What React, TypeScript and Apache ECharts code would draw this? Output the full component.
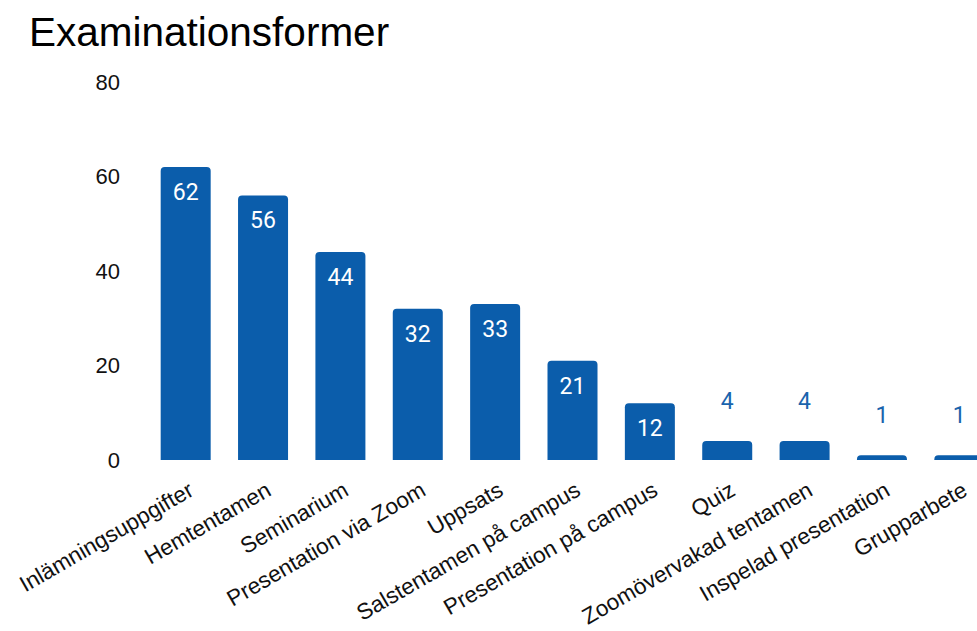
import React, { useEffect, useRef } from "react";
import * as echarts from "echarts";

const categories = [
  "Inlämningsuppgifter",
  "Hemtentamen",
  "Seminarium",
  "Presentation via Zoom",
  "Uppsats",
  "Salstentamen på campus",
  "Presentation på campus",
  "Quiz",
  "Zoomövervakad tentamen",
  "Inspelad presentation",
  "Grupparbete",
];
const values = [62, 56, 44, 32, 33, 21, 12, 4, 4, 1, 1];
const yTicks = { min: 0, max: 80, interval: 20 };

const BAR = "#0b5dab";

export default function App() {
  const ref = useRef<HTMLDivElement>(null);
  useEffect(() => {
    if (!ref.current) return;
    const chart = echarts.init(ref.current, null, { renderer: "svg" });
    chart.setOption({
      animation: false,
      backgroundColor: "#fff",
      title: {
        text: "Examinationsformer",
        left: 24,
        top: 6,
        textStyle: {
          fontSize: 40.5,
          fontWeight: "normal",
          color: "#000",
          fontFamily: "Liberation Sans",
        },
      },
      grid: {
        left: 147,
        right: 2,
        top: 82,
        bottom: 171,
        containLabel: false,
        outerBoundsMode: "none",
      },
      xAxis: {
        type: "category",
        data: categories,
        axisLine: { show: false },
        axisTick: { show: false },
        axisLabel: {
          interval: 0,
          rotate: 30,
          fontSize: 22.5,
          color: "#111",
          margin: 18,
          verticalAlign: "top",
          fontFamily: "Liberation Sans",
        },
      },
      yAxis: {
        type: "value",
        min: yTicks.min,
        max: yTicks.max,
        interval: yTicks.interval,
        axisLine: { show: false },
        axisTick: { show: false },
        splitLine: { show: false },
        axisLabel: {
          fontSize: 22,
          color: "#111",
          margin: 27,
          fontFamily: "Liberation Sans",
        },
      },
      series: [
        {
          type: "bar",
          barWidth: 50,
          itemStyle: { color: BAR, borderRadius: [4, 4, 0, 0] },
          data: values.map((v) =>
            v >= 10
              ? {
                  value: v,
                  label: {
                    show: true,
                    position: "insideTop",
                    distance: 14,
                    color: "#fff",
                    fontSize: 23,
                    fontFamily: "Roboto",
                  },
                }
              : {
                  value: v,
                  label: {
                    show: true,
                    position: "top",
                    distance: 28,
                    color: "#1a64ad",
                    fontSize: 23,
                    fontFamily: "Roboto",
                  },
                }
          ),
        },
      ],
    });
    return () => chart.dispose();
  }, []);
  return (
    <div
      style={{
        position: "fixed",
        left: 0,
        top: 0,
        width: 977,
        height: 631,
        overflow: "hidden",
        background: "#fff",
      }}
    >
      <div ref={ref} style={{ width: 1000, height: 631 }} />
    </div>
  );
}
